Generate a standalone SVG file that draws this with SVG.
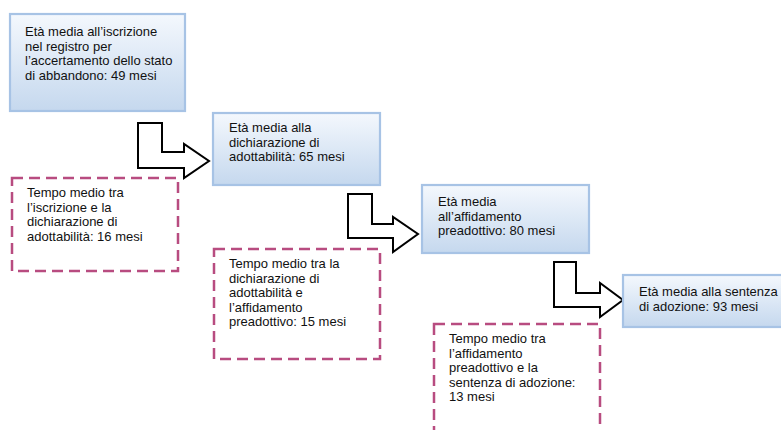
<svg xmlns="http://www.w3.org/2000/svg" width="781" height="430" viewBox="0 0 781 430">
<defs>
<linearGradient id="g" x1="0" y1="0" x2="0" y2="1">
<stop offset="0" stop-color="#f4f8fd"/>
<stop offset="1" stop-color="#c5d8ee"/>
</linearGradient>
</defs>
<style>
.box{fill:url(#g);stroke:#a7c3e5;stroke-width:2.2}
.dash{fill:#ffffff;stroke:#b84c80;stroke-width:2.5;stroke-dasharray:11 6}
.arr{fill:#ffffff;stroke:#000000;stroke-width:2;stroke-linejoin:miter}
text{font-family:"Liberation Sans",Arial,sans-serif;font-size:13px;fill:#111111}
</style>
<rect width="781" height="430" fill="#ffffff"/>
<g id="connectors">
<path class="arr" d="M138,123 H162 V152 H184 V144 L209,161 L184,178 V168 H138 Z"/>
<path class="arr" d="M348,194 H372 V224 H393 V217 L418,234 L393,252 V238 H348 Z"/>
<path class="arr" d="M554,262 H576 V293 H600 V283 L623,300 L600,317 V307 H554 Z"/>
</g>
<g id="n1">
<rect class="box" x="10" y="14" width="175" height="97"/>
<text x="25" y="36">Età media all’iscrizione</text>
<text x="25" y="50.5">nel registro per</text>
<text x="25" y="65">l’accertamento dello stato</text>
<text x="25" y="79.5">di abbandono: 49 mesi</text>
</g>
<g id="n2">
<rect class="box" x="213" y="113" width="167" height="72"/>
<text x="229" y="132">Età media alla</text>
<text x="229" y="146.5">dichiarazione di</text>
<text x="229" y="161">adottabilità: 65 mesi</text>
</g>
<g id="n3">
<rect class="box" x="422" y="185" width="167" height="68"/>
<text x="438" y="206">Età media</text>
<text x="438" y="220.5">all’affidamento</text>
<text x="438" y="235">preadottivo: 80 mesi</text>
</g>
<g id="n4">
<rect class="box" x="623" y="275" width="170" height="52"/>
<text x="639" y="296">Età media alla sentenza</text>
<text x="639" y="310.5">di adozione: 93 mesi</text>
</g>
<g id="d1">
<rect class="dash" x="12" y="178" width="166" height="93"/>
<text x="27" y="197">Tempo medio tra</text>
<text x="27" y="211.5">l’iscrizione e la</text>
<text x="27" y="226">dichiarazione di</text>
<text x="27" y="240.5">adottabilità: 16 mesi</text>
</g>
<g id="d2">
<rect class="dash" x="214" y="249" width="166" height="110"/>
<text x="229" y="268">Tempo medio tra la</text>
<text x="229" y="282.5">dichiarazione di</text>
<text x="229" y="297">adottabilità e</text>
<text x="229" y="311.5">l’affidamento</text>
<text x="229" y="326">preadottivo: 15 mesi</text>
</g>
<g id="d3">
<rect class="dash" x="434" y="324" width="166" height="120"/>
<text x="449" y="343">Tempo medio tra</text>
<text x="449" y="357.5">l’affidamento</text>
<text x="449" y="372">preadottivo e la</text>
<text x="449" y="386.5">sentenza di adozione:</text>
<text x="449" y="401">13 mesi</text>
</g>
</svg>
